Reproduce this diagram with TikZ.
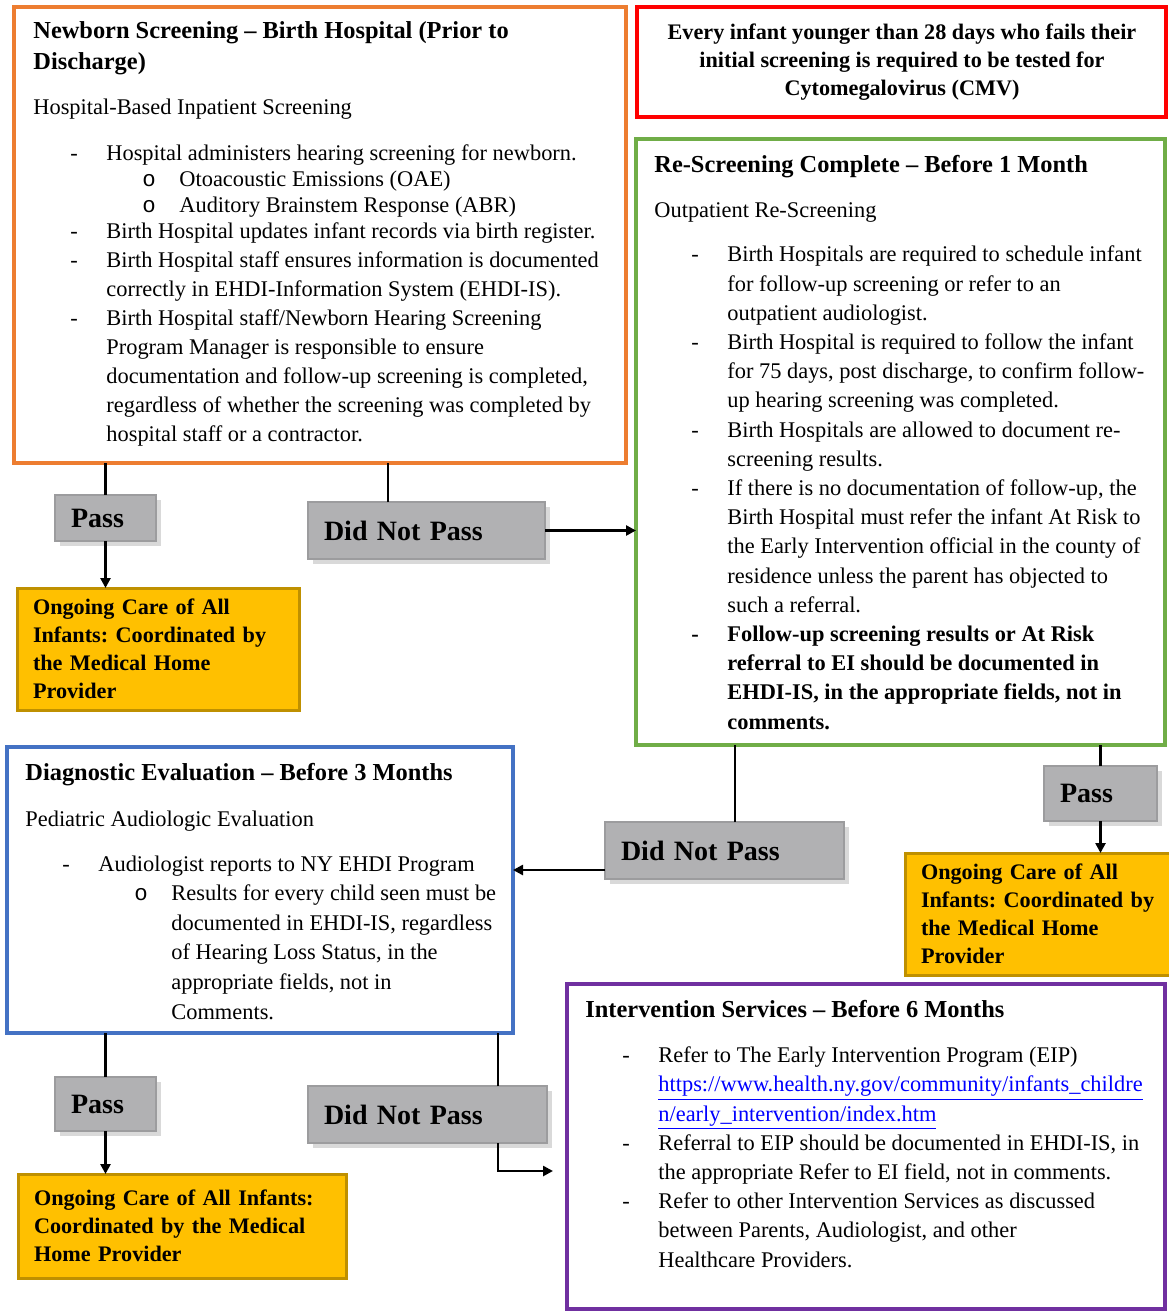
\documentclass[tikz,border=0pt]{standalone}
\usepackage{fontspec}
\setmainfont{Liberation Serif}
\setmonofont{Liberation Mono}
\usetikzlibrary{arrows.meta,shadows}

\definecolor{newbornorange}{HTML}{ED7D31}
\definecolor{cmvred}{HTML}{FF0000}
\definecolor{rescreengreen}{HTML}{70AD47}
\definecolor{diagblue}{HTML}{4472C4}
\definecolor{intervpurple}{HTML}{7030A0}
\definecolor{caregold}{HTML}{FFC000}
\definecolor{careedge}{HTML}{BF9000}
\definecolor{resultgray}{HTML}{B1B1B3}
\definecolor{resultedge}{HTML}{9C9C9E}
\definecolor{linkblue}{HTML}{0000FF}

% multi-line text nodes sit on the baseline of their last line
\tikzset{
	frame/.style={draw=#1, line width=2pt, inner sep=0pt, outer sep=0pt, anchor=north west},
	head/.style={anchor=base west, inner sep=0pt, align=left, font=\fontsize{12.2}{15.5}\selectfont\bfseries},
	body/.style={anchor=base west, inner sep=0pt, align=left, font=\fontsize{11.2}{#1}\selectfont},
	body/.default=14.5pt,
	result/.style={draw=resultedge, fill=resultgray, line width=1pt, inner xsep=8pt, inner ysep=0pt,
		outer sep=0pt, align=left, anchor=north west, font=\fontsize{14}{16}\selectfont\bfseries,
		drop shadow={shadow xshift=2.5pt, shadow yshift=-2.5pt, opacity=.3}},
	care/.style={draw=careedge, fill=caregold, line width=1.5pt, inner xsep=8pt, inner ysep=0pt,
		outer sep=0pt, align=left, anchor=north west, font=\fontsize{11.1}{14}\selectfont\bfseries\frenchspacing},
	flow/.style={line width=1.3pt},
	flowto/.style={flow, -{Triangle[length=5pt,width=5pt]}}
}

\begin{document}
\begin{tikzpicture}[x=0.5pt, y=-0.5pt]
	\newcommand\dashitem[1]{\makebox[36.5pt][l]{\hspace*{18.5pt}-}#1}
	\newcommand\dashmore[1]{\hspace*{36.5pt}#1}
	\newcommand\ringitem[1]{\makebox[73pt][l]{\hspace*{54.5pt}\texttt{o}}#1}
	\newcommand\ringmore[1]{\hspace*{73pt}#1}
	\newcommand\weblink[1]{\textcolor{linkblue}{\underline{#1}}}
	\useasboundingbox (0,0) rectangle (1168,1311);

	% framed stages
	\node[frame=newbornorange, minimum width=306pt, minimum height=228pt] (newborn) at (14,7) {};
	\node[frame=cmvred, minimum width=264.5pt, minimum height=55pt] (cmv) at (637,7) {};
	\node[frame=rescreengreen, minimum width=264.5pt, minimum height=303pt] (rescreen) at (636,139) {};
	\node[frame=diagblue, minimum width=253pt, minimum height=143pt] (diag) at (7,747) {};
	\node[frame=intervpurple, minimum width=299pt, minimum height=162.5pt] (interv) at (567,984) {};

	\node[head] (newbornHead) at (33,70) {Newborn Screening – Birth Hospital (Prior to\\Discharge)};
	\node[body] (newbornSub) at (33,114) {Hospital-Based Inpatient Screening};
	\node[body] (newbornList) at (33,441) {\dashitem{Hospital administers hearing screening for newborn.}\\[-1.5pt]
		\ringitem{Otoacoustic Emissions (OAE)}\\[-1.5pt]
		\ringitem{Auditory Brainstem Response (ABR)}\\[-1.5pt]
		\dashitem{Birth Hospital updates infant records via birth register.}\\
		\dashitem{Birth Hospital staff ensures information is documented}\\
		\dashmore{correctly in EHDI-Information System (EHDI-IS).}\\
		\dashitem{Birth Hospital staff/Newborn Hearing Screening}\\
		\dashmore{Program Manager is responsible to ensure}\\
		\dashmore{documentation and follow-up screening is completed,}\\
		\dashmore{regardless of whether the screening was completed by}\\
		\dashmore{hospital staff or a contractor.}};

	\node[align=center, inner sep=0pt, font=\fontsize{11.1}{14}\selectfont\bfseries] (cmvText) at (902,62.5)
		{Every infant younger than 28 days who fails their\\initial screening is required to be tested for\\Cytomegalovirus (CMV)};

	\node[head] (rescreenHead) at (654,172) {Re-Screening Complete – Before 1 Month};
	\node[body] (rescreenSub) at (654,217) {Outpatient Re-Screening};
	\node[body=14.6pt] (rescreenList) at (654,729) {\dashitem{Birth Hospitals are required to schedule infant}\\
		\dashmore{for follow-up screening or refer to an}\\
		\dashmore{outpatient audiologist.}\\
		\dashitem{Birth Hospital is required to follow the infant}\\
		\dashmore{for 75 days, post discharge, to confirm follow-}\\
		\dashmore{up hearing screening was completed.}\\
		\dashitem{Birth Hospitals are allowed to document re-}\\
		\dashmore{screening results.}\\
		\dashitem{If there is no documentation of follow-up, the}\\
		\dashmore{Birth Hospital must refer the infant At Risk to}\\
		\dashmore{the Early Intervention official in the county of}\\
		\dashmore{residence unless the parent has objected to}\\
		\dashmore{such a referral.}\\
		\bfseries\dashitem{Follow-up screening results or At Risk}\\
		\bfseries\dashmore{referral to EI should be documented in}\\
		\bfseries\dashmore{EHDI-IS, in the appropriate fields, not in}\\
		\bfseries\dashmore{comments.}};

	\node[head] (diagHead) at (25,780) {Diagnostic Evaluation – Before 3 Months};
	\node[body] (diagSub) at (25,826) {Pediatric Audiologic Evaluation};
	\node[body=14.8pt] (diagList) at (25,1019) {\dashitem{Audiologist reports to NY EHDI Program}\\
		\ringitem{Results for every child seen must be}\\
		\ringmore{documented in EHDI-IS, regardless}\\
		\ringmore{of Hearing Loss Status, in the}\\
		\ringmore{appropriate fields, not in}\\
		\ringmore{Comments.}};

	\node[head] (intervHead) at (585,1017) {Intervention Services – Before 6 Months};
	\node[body=14.6pt] (intervList) at (585,1267) {\dashitem{Refer to The Early Intervention Program (EIP)}\\
		\dashmore{\weblink{https://www.health.ny.gov/community/infants\_childre}}\\
		\dashmore{\weblink{n/early\_intervention/index.htm}}\\
		\dashitem{Referral to EIP should be documented in EHDI-IS, in}\\
		\dashmore{the appropriate Refer to EI field, not in comments.}\\
		\dashitem{Refer to other Intervention Services as discussed}\\
		\dashmore{between Parents, Audiologist, and other}\\
		\dashmore{Healthcare Providers.}};

	% outcomes
	\node[result, text width=34.5pt, minimum height=23pt] (pass1) at (55,495) {Pass};
	\node[result, text width=102.5pt, minimum height=28.5pt] (fail1) at (308,502) {Did Not Pass};
	\node[result, text width=40.5pt, minimum height=27.5pt] (pass2) at (1044,766) {Pass};
	\node[result, text width=103.5pt, minimum height=28.5pt] (fail2) at (605,822) {Did Not Pass};
	\node[result, text width=34.5pt, minimum height=27pt] (pass3) at (55,1077) {Pass};
	\node[result, text width=103.5pt, minimum height=28.5pt] (fail3) at (308,1086) {Did Not Pass};

	\node[care, text width=125pt, minimum height=61pt] (care1) at (17,588)
		{Ongoing Care of All\\Infants: Coordinated by\\the Medical Home\\Provider};
	\node[care, text width=120pt, minimum height=61pt] (care2) at (905,853)
		{Ongoing Care of All\\Infants: Coordinated by\\the Medical Home\\Provider};
	\node[care, text width=148pt, minimum height=52pt] (care3) at (18,1174)
		{Ongoing Care of All Infants:\\Coordinated by the Medical\\Home Provider};

	\draw[flow] (newborn.south -| pass1.north) -- (pass1.north);
	\draw[flowto] (pass1.south) -- (pass1.south |- care1.north);
	\draw[flow] ([xshift=-19.25pt]fail1.north) -- ([xshift=-19.25pt]fail1.north |- newborn.south);
	\draw[flowto] (fail1.east) -- (fail1.east -| rescreen.west);

	\draw[flow] (rescreen.south -| pass2.north) -- (pass2.north);
	\draw[flowto] (pass2.south) -- (pass2.south |- care2.north);
	\draw[flow] ([xshift=5.25pt]fail2.north) -- ([xshift=5.25pt]fail2.north |- rescreen.south);
	\draw[flowto] ([yshift=-9.75pt]fail2.west) -- ([yshift=-9.75pt]fail2.west -| diag.east);

	\draw[flow] (diag.south -| pass3.north) -- (pass3.north);
	\draw[flowto] (pass3.south) -- (pass3.south |- care3.north);
	\draw[flow] ([xshift=35.25pt]fail3.north) -- ([xshift=35.25pt]fail3.north |- diag.south);
	\coordinate (toEI) at (553,1171);
	\draw[flowto] ([xshift=35.25pt]fail3.south) |- (toEI);
\end{tikzpicture}
\end{document}
